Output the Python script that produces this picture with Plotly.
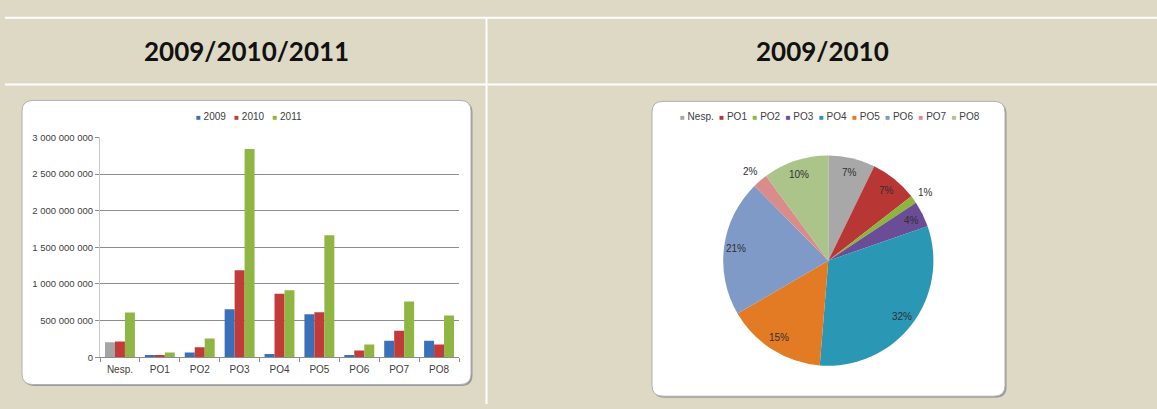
import math
import plotly.graph_objects as go

W, H = 1157, 409

# ---------------- data ----------------
categories = ["Nesp.", "PO1", "PO2", "PO3", "PO4", "PO5", "PO6", "PO7", "PO8"]
years = ["2009", "2010", "2011"]
values_2009 = [205e6, 30e6, 66e6, 655e6, 44e6, 588e6, 30e6, 226e6, 226e6]
values_2010 = [216e6, 30e6, 137e6, 1186e6, 867e6, 615e6, 93e6, 363e6, 173e6]
values_2011 = [610e6, 66e6, 256e6, 2840e6, 916e6, 1664e6, 173e6, 761e6, 571e6]
y_ticks = [0, 500e6, 1000e6, 1500e6, 2000e6, 2500e6, 3000e6]

pie_labels = ["Nesp.", "PO1", "PO2", "PO3", "PO4", "PO5", "PO6", "PO7", "PO8"]
pie_shares = [7.2, 7.3, 1.2, 4.0, 31.6, 15.3, 21.0, 2.3, 10.1]

header_left = "2009/2010/2011"
header_right = "2009/2010"

# ---------------- styles ----------------
BEIGE = "#DDD9C4"
year_colors = ["#3A70BA", "#C23B38", "#8FB543"]
nesp_gray = "#A5A5A5"
pie_colors = ["#A8A8A8", "#B83633", "#8DB43D", "#6B4C96", "#2A97B5",
              "#E27B24", "#7F9AC6", "#D98C89", "#AAC489"]
TXT = "#404040"
FAM = "Liberation Sans, Arial, sans-serif"
SMALL = dict(family=FAM, size=10, color=TXT)


def px(x):
    return x / W


def py(y):
    return 1 - y / H


def rrect(x0, y0, x1, y1, r):
    pts = [
        ("M", [(x0 + r, y0)]), ("L", [(x1 - r, y0)]),
        ("Q", [(x1, y0), (x1, y0 + r)]), ("L", [(x1, y1 - r)]),
        ("Q", [(x1, y1), (x1 - r, y1)]), ("L", [(x0 + r, y1)]),
        ("Q", [(x0, y1), (x0, y1 - r)]), ("L", [(x0, y0 + r)]),
        ("Q", [(x0, y0), (x0 + r, y0)]),
    ]
    s = ""
    for cmd, ps in pts:
        s += cmd + " " + " ".join(f"{px(a):.6f},{py(b):.6f}" for a, b in ps) + " "
    return s + "Z"


fig = go.Figure()

# ---------------- bar chart ----------------
series = [values_2009, values_2010, values_2011]
for i, (yr, vals) in enumerate(zip(years, series)):
    cols = [year_colors[i]] * len(categories)
    if i == 0:
        cols[0] = nesp_gray
    fig.add_trace(go.Bar(
        x=categories, y=vals, name=yr,
        marker=dict(color=cols, line=dict(width=0)),
        showlegend=False, hoverinfo="x+y+name",
        xaxis="x", yaxis="y",
    ))

# ---------------- pie chart ----------------
cx, cy, r = 828.3, 261.7, 108
fig.add_trace(go.Pie(
    labels=pie_labels, values=pie_shares, sort=False, direction="clockwise",
    rotation=0,
    marker=dict(colors=pie_colors, line=dict(width=0)),
    textinfo="none",
    domain=dict(x=[px(cx - r), px(cx + r)], y=[py(cy + r), py(cy - r)]),
    showlegend=False,
))

# ---------------- shapes (table + boxes) ----------------
shapes = []
for yy in (12, 80.7):
    shapes.append(dict(type="line", xref="paper", yref="paper",
                       x0=px(5), x1=1, y0=py(yy), y1=py(yy),
                       line=dict(color="white", width=2), layer="below"))
shapes.append(dict(type="line", xref="paper", yref="paper",
                   x0=px(486.5), x1=px(486.5), y0=py(12), y1=0,
                   line=dict(color="white", width=2), layer="below"))
for (x0, y0, x1, y1) in [(22, 97, 471, 389), (652, 98, 1005, 401)]:
    shapes.append(dict(type="path", xref="paper", yref="paper",
                       path=rrect(x0 + 1.5, y0 + 1.5, x1 + 1.5, y1 + 1.5, 11),
                       fillcolor="#9A9A9A", line=dict(width=0), layer="below"))
    shapes.append(dict(type="path", xref="paper", yref="paper",
                       path=rrect(x0, y0, x1, y1, 11),
                       fillcolor="white", line=dict(color="#B0B0B0", width=1),
                       layer="below"))


NB = "\u00a0"


def legend_text(names, colors, gap):
    parts = [f"<span style='font-size:8px;color:{c}'>■</span>{NB}{n}"
             for n, c in zip(names, colors)]
    return (NB * gap).join(parts)


def ann(text, x, y, font):
    return dict(text=text, x=px(x), y=py(y), xref="paper", yref="paper",
                xanchor="center", yanchor="middle", showarrow=False, font=font)


HEAD = dict(family="Lato, sans-serif", size=26, color="#111111")
annotations = [
    ann(f"<b>{header_left}</b>", 246, 46, HEAD),
    ann(f"<b>{header_right}</b>", 822, 46, HEAD),
    ann(legend_text(years, year_colors, 3), 248.5, 114, SMALL),
    ann(legend_text(pie_labels, pie_colors, 2), 830, 114, SMALL),
]

# pie percentage labels, placed at each slice's mid angle
total = sum(pie_shares)
cum = 0.0
for s in pie_shares:
    mid = (cum + s / 2) / total * 2 * math.pi
    cum += s
    rad = 0.86 * r if s >= 3 else 1.11 * r
    lx = cx + rad * math.sin(mid)
    ly = cy - rad * math.cos(mid)
    annotations.append(ann(f"{round(s / total * 100)}%", lx, ly,
                           dict(family=FAM, size=10, color="#303030")))

fig.update_layout(
    width=W, height=H,
    margin=dict(l=0, r=0, t=0, b=0),
    paper_bgcolor=BEIGE, plot_bgcolor="rgba(0,0,0,0)",
    separators=", ",
    barmode="group", bargap=0.25, bargroupgap=0,
    shapes=shapes, annotations=annotations,
    xaxis=dict(domain=[px(100), px(459)], type="category",
               showline=True, linecolor="#8C8C8C", linewidth=1,
               ticks="outside", ticklen=4, tickcolor="#8C8C8C", tickson="boundaries",
               tickfont=SMALL, showgrid=False, fixedrange=True, ticklabelstandoff=3),
    yaxis=dict(domain=[py(361), py(135)], range=[0, 3000e6],
               tickvals=y_ticks, tickformat=",d",
               showline=True, linecolor="#C8C8C8", linewidth=1,
               ticks="outside", ticklen=4, tickcolor="#8C8C8C",
               showgrid=True, gridcolor="#8C8C8C", gridwidth=1,
               zeroline=False, tickfont=dict(SMALL, size=9.5), fixedrange=True),
    font=SMALL,
)

fig.write_html(
    "out.html",
    config={"displayModeBar": False},
    post_script=(
        "document.body.style.margin='0';document.body.style.overflow='hidden';"
        "var d=document.getElementById('{plot_id}');"
        "d.style.position='fixed';d.style.top='0px';d.style.left='0px';"
    ),
)
